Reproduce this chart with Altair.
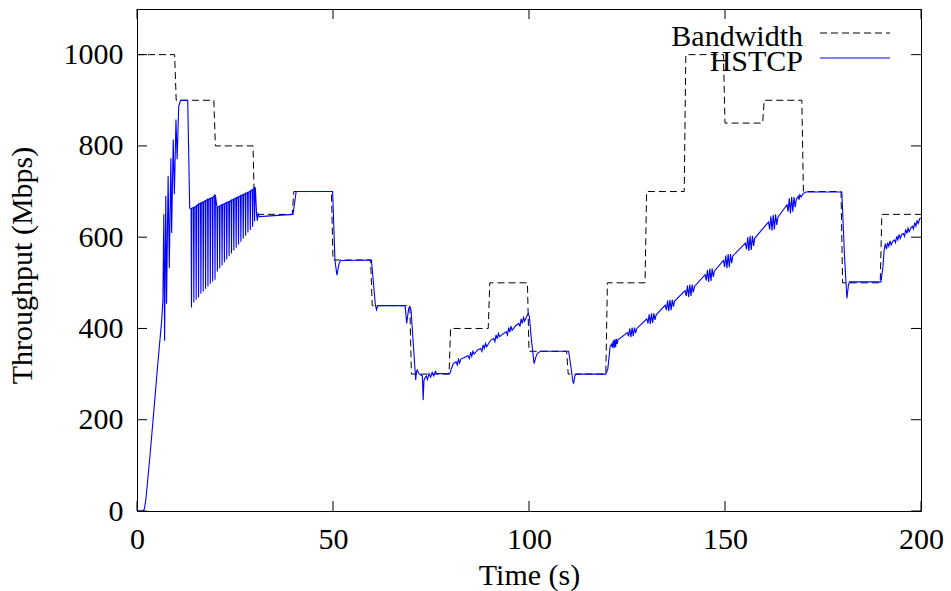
import altair as alt
import pandas as pd

# ---------------- data ----------------
BW_LEVELS = [1000, 900, 800, 650, 700, 550, 450, 300, 400, 500,
             350, 300, 500, 700, 1000, 850, 900, 700, 500, 650]
BW_SWITCH = [10, 20, 30, 40, 50, 60, 70, 80, 90, 100,
             110, 120, 130, 140, 150, 160, 170, 180, 190]

# slow start and first spikes (t, Mbps)
HS_START = [(0, 0), (1.5, 0), (1.9, 5), (2.3, 28), (3.3, 120), (4.3, 220), (5.3, 322),
            (6.3, 418), (6.6, 460), (6.84, 650), (7.04, 373), (7.34, 690), (7.54, 454),
            (7.94, 734), (8.24, 532), (8.64, 773), (8.84, 609), (9.24, 814), (9.54, 694),
            (9.94, 858), (10.24, 771), (10.64, 887), (11.14, 900), (12.94, 900), (13.44, 664)]

# sawtooth teeth: time, top, bottom
SAW_T = [13.9, 14.5, 15.1, 15.7, 16.3, 16.9, 17.5, 18.1, 18.7, 19.3, 19.9,
         20.5, 21.1, 21.7, 22.3, 22.9, 23.5, 24.1, 24.7, 25.3, 25.9, 26.5, 27.1, 27.7,
         28.3, 28.9, 29.5, 30.0]
SAW_TOP = [663, 665, 668, 672, 675, 677, 680, 683, 685, 687, 692,
           666, 668, 671, 673, 676, 678, 681, 683, 686, 688, 691, 693, 696,
           698, 701, 704, 708]
SAW_BOT = [446, 457, 463, 468, 476, 481, 487, 492, 498, 503, 507,
           525, 532, 538, 545, 551, 558, 564, 571, 577, 584, 590, 597, 603,
           610, 616, 623, 635]

HS_MID = [(30.2, 708), (30.5, 651), (30.7, 636), (30.9, 651), (31.2, 645), (39.8, 650),
          (40.6, 700), (49.9, 700), (50.5, 549), (51.0, 517), (51.6, 544), (52.1, 549),
          (59.8, 550), (60.8, 452), (61.1, 441), (61.4, 450), (68.4, 450), (68.8, 411),
          (69.3, 444), (69.6, 448), (69.9, 441), (71.1, 287), (71.3, 306), (71.5, 309),
          (71.9, 301), (72.8, 296), (73.0, 243), (73.2, 286), (73.4, 291), (73.8, 296),
          (74.1, 288), (74.5, 301), (74.9, 293), (75.3, 304), (75.7, 296), (76.1, 306),
          (76.5, 301), (79.8, 301), (80.3, 314), (80.7, 323)]

HS_RAMP1 = [(81.4, 327), (81.7, 320), (82.0, 332), (82.3, 324), (82.6, 333), (83.4, 336),
            (84.4, 340), (84.8, 334), (85.1, 348), (85.4, 339), (85.7, 350), (86.0, 344),
            (86.9, 353), (87.7, 356), (88.0, 350), (88.3, 364), (88.6, 356), (88.9, 367),
            (89.2, 360), (90.2, 374), (91.0, 378), (91.3, 371), (91.6, 386), (91.9, 377),
            (92.2, 389), (92.5, 382), (93.4, 388), (94.2, 393), (94.5, 386), (94.8, 402),
            (95.1, 392), (95.4, 405), (95.7, 396), (96.6, 406), (97.4, 411), (97.7, 404),
            (98.0, 421), (98.3, 411), (98.6, 424), (98.9, 416), (99.4, 426), (99.8, 433),
            (100.1, 426)]

HS_DIP = [(100.6, 376), (101.3, 323), (101.7, 336), (102.1, 345), (102.9, 350), (110.1, 350),
          (110.7, 316), (111.2, 283), (111.4, 280), (111.7, 296), (112.1, 300), (119.6, 300),
          (120.1, 311), (120.7, 360)]

HS_RAMP2 = [(121.1, 366), (121.3, 358), (121.5, 374), (121.7, 357), (121.9, 376), (122.1, 359),
            (122.3, 377), (122.5, 366), (122.7, 375),
            (125.1, 391), (125.4, 383), (125.7, 400), (126.0, 381), (126.3, 402), (126.6, 383),
            (126.9, 402), (127.2, 390), (127.5, 400),
            (130.05, 421), (130.35, 411), (130.65, 431), (130.95, 410), (131.25, 433),
            (131.55, 412), (131.85, 433), (132.15, 419), (132.45, 430),
            (134.75, 451), (135.05, 440), (135.35, 461), (135.65, 438), (135.95, 463),
            (136.25, 440), (136.55, 463), (136.85, 448), (137.15, 460),
            (139.82, 483), (140.12, 471), (140.42, 494), (140.72, 469), (141.02, 496),
            (141.32, 471), (141.62, 496), (141.92, 479), (142.22, 492),
            (144.92, 518), (145.22, 505), (145.52, 528), (145.82, 502), (146.12, 531),
            (146.42, 504), (146.72, 531), (147.02, 513), (147.32, 526),
            (149.6, 549), (149.9, 535), (150.2, 560), (150.5, 532), (150.8, 563),
            (151.1, 534), (151.4, 563), (151.7, 543), (152.0, 559),
            (155.2, 587), (155.5, 573), (155.8, 600), (156.1, 570), (156.4, 603),
            (156.7, 572), (157.0, 603), (157.3, 581), (157.6, 598),
            (161.1, 633), (161.4, 617), (161.7, 646), (162.0, 614), (162.3, 649),
            (162.6, 617), (162.9, 650), (163.2, 627), (163.5, 644),
            (165.8, 671), (166.1, 656), (166.4, 685), (166.7, 652), (167.0, 688),
            (167.3, 656), (167.6, 688), (167.9, 666), (168.2, 683),
            (168.7, 690), (168.9, 682), (169.1, 693), (169.4, 688), (170.0, 696)]

HS_END = [(170.6, 699), (179.8, 699), (180.5, 556), (181.1, 466), (181.5, 496), (181.8, 502),
          (189.8, 502), (190.3, 536), (190.6, 571), (190.9, 586), (191.2, 574), (191.5, 588),
          (191.8, 580), (192.1, 592), (192.4, 583), (192.8, 591), (193.2, 594), (193.5, 588),
          (193.8, 602), (194.1, 594), (194.4, 606), (194.7, 597), (195.1, 606), (195.5, 608),
          (195.8, 602), (196.1, 617), (196.4, 608), (196.7, 620), (197.0, 612), (197.4, 620),
          (197.8, 624), (198.1, 618), (198.4, 632), (198.7, 624), (199.0, 636), (199.3, 630),
          (199.7, 641), (200.0, 642)]

X_TICKS = [0, 50, 100, 150, 200]
Y_TICKS = [0, 200, 400, 600, 800, 1000]

# ---------------- build tables ----------------
bw_t, bw_v = [0.0], [BW_LEVELS[0]]
for k, s in enumerate(BW_SWITCH):
    bw_t += [s - 0.4, s]
    bw_v += [BW_LEVELS[k], BW_LEVELS[k + 1]]
bw_t.append(200.0)
bw_v.append(BW_LEVELS[-1])
bw_df = pd.DataFrame({"t": bw_t, "v": bw_v})
bw_df["i"] = range(len(bw_df))

pts = list(HS_START)
for t, top, bot in zip(SAW_T, SAW_TOP, SAW_BOT):
    pts += [(t - 0.1, top), (t, bot), (t + 0.1, top)]
pts += HS_MID + HS_RAMP1 + HS_DIP + HS_RAMP2 + HS_END
hs_df = pd.DataFrame(pts, columns=["t", "v"])
hs_df["i"] = range(len(hs_df))

W, H = 784, 502
FONT = "Liberation Serif"
FS = 30

xs = alt.Scale(domain=[0, 200], nice=False, zero=False)
ys = alt.Scale(domain=[0, 1100], nice=False, zero=False)

x_axis = alt.Axis(values=X_TICKS, format="d", ticks=False, domain=False, grid=False,
                  labelFlush=False, labelOverlap=False, labelPadding=13, labelFontSize=FS,
                  labelFont=FONT, labelColor="black", title="Time (s)", titleFontSize=FS,
                  titleFont=FONT, titleFontWeight="normal", titleColor="black", titleY=73,
                  titleBaseline="alphabetic")
y_axis = alt.Axis(values=Y_TICKS, format="d", ticks=False, domain=False, grid=False,
                  labelFlush=False, labelOverlap=False, labelPadding=14, labelFontSize=FS,
                  labelFont=FONT, labelColor="black", title="Throughput (Mbps)",
                  titleFontSize=FS, titleFont=FONT, titleFontWeight="normal",
                  titleColor="black", titleAngle=270, titleX=-106, titleY=256,
                  titleAlign="center", titleBaseline="alphabetic")

X = alt.X("t:Q", scale=xs, axis=x_axis)
Y = alt.Y("v:Q", scale=ys, axis=y_axis)

bw_line = alt.Chart(bw_df).mark_line(color="black", strokeWidth=1, strokeDash=[7, 4]).encode(
    x=X, y=Y, order="i:Q")
hs_line = alt.Chart(hs_df).mark_line(color="#0000ff", strokeWidth=1.1).encode(
    x=X, y=Y, order="i:Q")

xt = pd.DataFrame({"t": X_TICKS})
yt = pd.DataFrame({"v": Y_TICKS})
tick_b = alt.Chart(xt).mark_rule(color="black").encode(
    x=X, y=alt.value(H), y2=alt.value(H - 10))
tick_t = alt.Chart(xt).mark_rule(color="black").encode(
    x=X, y=alt.value(0), y2=alt.value(10))
tick_l = alt.Chart(yt).mark_rule(color="black").encode(
    y=Y, x=alt.value(0), x2=alt.value(10))
tick_r = alt.Chart(yt).mark_rule(color="black").encode(
    y=Y, x=alt.value(W - 10), x2=alt.value(W))

one = alt.Data(values=[{}])
leg_bw_txt = alt.Chart(one).mark_text(text="Bandwidth", font=FONT, fontSize=FS, align="right",
                                      baseline="alphabetic", color="black").encode(
    x=alt.value(666), y=alt.value(37))
leg_hs_txt = alt.Chart(one).mark_text(text="HSTCP", font=FONT, fontSize=FS, align="right",
                                      baseline="alphabetic", color="black").encode(
    x=alt.value(666), y=alt.value(62))
leg_bw_line = alt.Chart(one).mark_rule(color="black", strokeWidth=1, strokeDash=[7, 4]).encode(
    x=alt.value(683), x2=alt.value(753), y=alt.value(24))
leg_hs_line = alt.Chart(one).mark_rule(color="#0000ff", strokeWidth=1.1).encode(
    x=alt.value(683), x2=alt.value(753), y=alt.value(49))

chart = alt.layer(
    bw_line, hs_line, tick_b, tick_t, tick_l, tick_r,
    leg_bw_txt, leg_hs_txt, leg_bw_line, leg_hs_line,
).properties(
    width=W, height=H,
    padding={"left": 137, "top": 9, "right": 30, "bottom": 80},
    autosize=alt.AutoSizeParams(type="none"),
    background="white",
).configure(font=FONT).configure_view(stroke="black", strokeWidth=1)

chart.save("out.html", embed_options={"renderer": "svg", "actions": False})
